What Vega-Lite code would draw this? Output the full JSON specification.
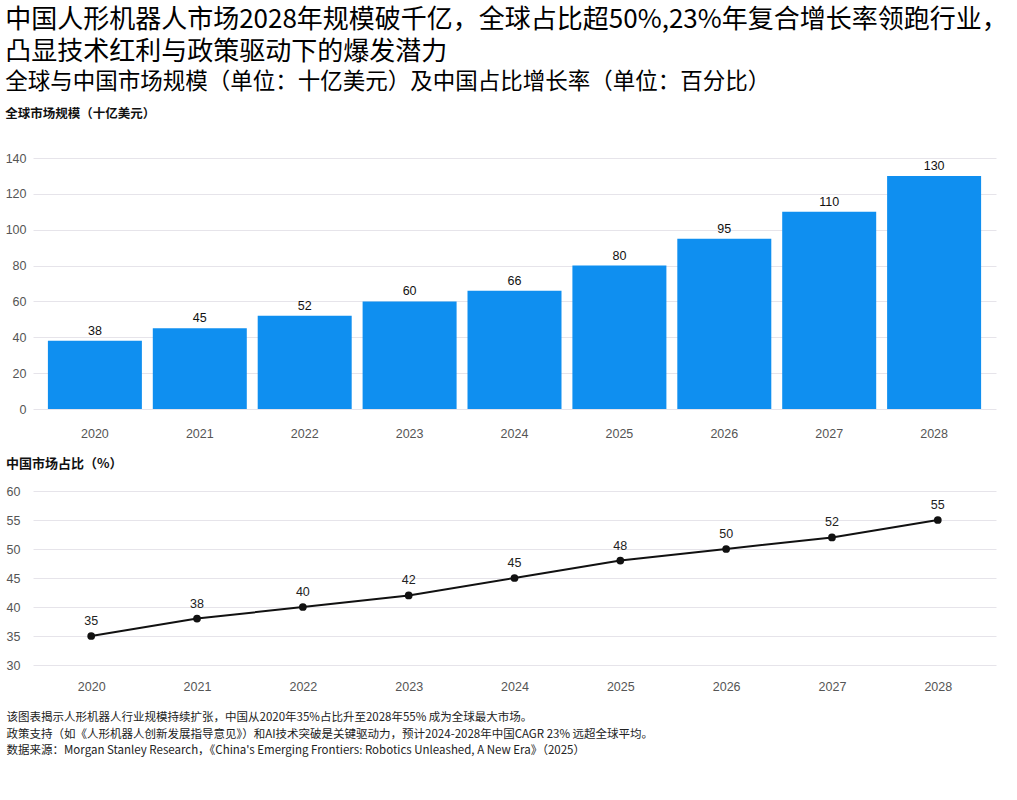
{
  "$schema": "https://vega.github.io/schema/vega-lite/v6.json",
  "background": "#ffffff",
  "padding": {"left": 5, "top": 7, "right": 5, "bottom": 5},
  "title": {
    "text": ["中国人形机器人市场2028年规模破千亿，全球占比超50%,23%年复合增长率领跑行业，", "凸显技术红利与政策驱动下的爆发潜力"],
    "subtitle": "全球与中国市场规模（单位：十亿美元）及中国占比增长率（单位：百分比）",
    "anchor": "start",
    "frame": "bounds",
    "font": "Noto Sans CJK SC",
    "fontSize": 26,
    "fontWeight": "normal",
    "lineHeight": 32,
    "color": "#000000",
    "subtitleFont": "Noto Sans CJK SC",
    "subtitleFontSize": 22.5,
    "subtitleColor": "#000000",
    "subtitlePadding": 6,
    "offset": 14
  },
  "config": {
    "font": "Liberation Sans",
    "view": {"stroke": null},
    "axis": {
      "labelFont": "Liberation Sans",
      "labelFontSize": 12.5,
      "labelColor": "#555555",
      "gridColor": "#e6e4ea",
      "domain": false,
      "ticks": false,
      "title": null
    },
    "concat": {"spacing": 18}
  },
  "vconcat": [
    {
      "title": {
        "text": "全球市场规模（十亿美元）",
        "anchor": "start",
        "font": "Noto Sans CJK SC",
        "fontSize": 12.5,
        "fontWeight": "bold",
        "color": "#111111",
        "offset": 32
      },
      "width": 963,
      "height": 251,
      "data": {
        "values": [
          {"年份": "2020", "规模": 38},
          {"年份": "2021", "规模": 45},
          {"年份": "2022", "规模": 52},
          {"年份": "2023", "规模": 60},
          {"年份": "2024", "规模": 66},
          {"年份": "2025", "规模": 80},
          {"年份": "2026", "规模": 95},
          {"年份": "2027", "规模": 110},
          {"年份": "2028", "规模": 130}
        ]
      },
      "encoding": {
        "x": {
          "field": "年份",
          "type": "ordinal",
          "scale": {"paddingInner": 0.104, "paddingOuter": 0.142},
          "axis": {"labelAngle": 0, "labelPadding": 18, "grid": false}
        },
        "y": {
          "field": "规模",
          "type": "quantitative",
          "scale": {"domain": [0, 140]},
          "axis": {"values": [0, 20, 40, 60, 80, 100, 120, 140], "labelPadding": 7}
        }
      },
      "layer": [
        {"mark": {"type": "bar", "color": "#0f8ff0"}},
        {
          "mark": {"type": "text", "dy": -10, "fontSize": 12.5, "color": "#111111", "font": "Liberation Sans"},
          "encoding": {"text": {"field": "规模", "type": "quantitative"}}
        }
      ]
    },
    {
      "title": {
        "text": "中国市场占比（%）",
        "anchor": "start",
        "font": "Noto Sans CJK SC",
        "fontSize": 13,
        "fontWeight": "bold",
        "color": "#111111",
        "offset": 14
      },
      "width": 963,
      "height": 174,
      "data": {
        "values": [
          {"年份": "2020", "占比": 35},
          {"年份": "2021", "占比": 38},
          {"年份": "2022", "占比": 40},
          {"年份": "2023", "占比": 42},
          {"年份": "2024", "占比": 45},
          {"年份": "2025", "占比": 48},
          {"年份": "2026", "占比": 50},
          {"年份": "2027", "占比": 52},
          {"年份": "2028", "占比": 55}
        ]
      },
      "encoding": {
        "x": {
          "field": "年份",
          "type": "ordinal",
          "scale": {"type": "point", "padding": 0.55},
          "axis": {
            "labelAngle": 0,
            "labelPadding": 15,
            "grid": false,
            "title": [
              "该图表揭示人形机器人行业规模持续扩张，中国从2020年35%占比升至2028年55% 成为全球最大市场。",
              "政策支持（如《人形机器人创新发展指导意见》）和AI技术突破是关键驱动力，预计2024-2028年中国CAGR 23% 远超全球平均。",
              "数据来源：Morgan Stanley Research，《China's Emerging Frontiers: Robotics Unleashed, A New Era》（2025）"
            ],
            "titleFont": "Noto Sans CJK SC",
            "titleFontSize": 11.5,
            "titleFontWeight": "normal",
            "titleColor": "#222222",
            "titleLineHeight": 16.5,
            "titleAnchor": "start",
            "titleAlign": "left",
            "titleX": -27,
            "titlePadding": 19
          }
        },
        "y": {
          "field": "占比",
          "type": "quantitative",
          "scale": {"domain": [30, 60]},
          "axis": {"values": [30, 35, 40, 45, 50, 55, 60], "labelAlign": "left", "labelPadding": 27}
        }
      },
      "layer": [
        {"mark": {"type": "line", "color": "#111111", "strokeWidth": 2}},
        {"mark": {"type": "point", "filled": true, "color": "#111111", "size": 60, "opacity": 1}},
        {
          "mark": {"type": "text", "dy": -15, "fontSize": 12.5, "color": "#222222", "font": "Liberation Sans"},
          "encoding": {"text": {"field": "占比", "type": "quantitative"}}
        }
      ]
    }
  ]
}
